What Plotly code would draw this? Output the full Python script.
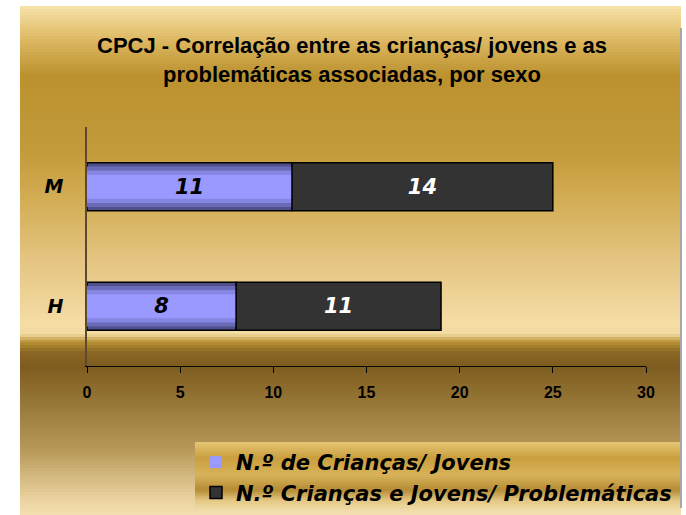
import plotly.graph_objects as go

categories = ["H", "M"]
criancas_jovens = [8, 11]
problematicas = [11, 14]
series_names = ["N.º de Crianças/ Jovens", "N.º Crianças e Jovens/ Problemáticas"]
x_ticks = [0, 5, 10, 15, 20, 25, 30]

W, H = 686, 515
L, R, T, B = 87, 40, 127, 149
pw, ph = W - L - R, H - T - B


def px2x(px):
    return (px - L) / pw


def py2y(py):
    return (H - B - py) / ph


def hex2rgb(h):
    h = h.lstrip("#")
    return tuple(int(h[i:i + 2], 16) for i in (0, 2, 4))


def lerp(c1, c2, t):
    a, b = hex2rgb(c1), hex2rgb(c2)
    return "rgb(%d,%d,%d)" % tuple(round(a[i] + (b[i] - a[i]) * t) for i in range(3))


def gradient(stops, x0, x1, step=3):
    shp = []
    for (p0, c0), (p1, c1) in zip(stops[:-1], stops[1:]):
        p = p0
        while p < p1:
            q = min(p + step, p1)
            t = ((p + q) / 2 - p0) / (p1 - p0)
            shp.append(dict(type="rect", xref="paper", yref="paper", layer="below",
                            x0=px2x(x0), x1=px2x(x1), y0=py2y(q + 0.5), y1=py2y(p),
                            fillcolor=lerp(c0, c1, t), line=dict(width=0)))
            p = q
    return shp


bg_stops = [(6, "#F7E3AA"), (40, "#DDB862"), (75, "#BC922F"), (150, "#C29A3A"),
            (200, "#D3AD55"), (260, "#E4C581"), (322, "#F4DCA4"), (334, "#F3DCA2"),
            (342, "#B89035"), (352, "#8A6724"), (366, "#7E5C20"), (400, "#947535"),
            (450, "#B8995A"), (500, "#EBD3A0"), (515, "#F3DFB0")]
shapes = gradient(bg_stops, 20, 681)

# legend background (metallic gold)
leg_stops = [(442, "#E6C675"), (458, "#C99E3E"), (475, "#D8B35A"), (490, "#B58C35"),
             (500, "#E2C580"), (508, "#EED9A2")]
shapes += gradient(leg_stops, 195, 680, step=2)
shapes.append(dict(type="line", xref="paper", yref="paper", x0=px2x(681), x1=px2x(681),
                   y0=py2y(508), y1=py2y(28), line=dict(color="#A8A8A8", width=2)))

fig = go.Figure()

label_font = dict(family="DejaVu Sans", size=21, weight="bold", style="italic")

layers = [(0.40, "#4F4F8A"), (0.34, "#6A6AB8"), (0.27, "#8585E2"), (0.20, "#9999FF")]
for i, (w, col) in enumerate(layers):
    last = i == len(layers) - 1
    fig.add_trace(go.Bar(
        y=categories, x=criancas_jovens, orientation="h", width=w,
        name=series_names[0], showlegend=last,
        marker=dict(color=col, line=dict(color="#000000" if i == 0 else col,
                                         width=1.5 if i == 0 else 0)),
        text=[str(v) for v in criancas_jovens] if last else None,
        textposition="inside" if last else "none", insidetextanchor="middle",
        constraintext="none", textangle=0,
        textfont=dict(color="#000000", **label_font),
        hoverinfo="skip" if not last else None,
    ))

fig.add_trace(go.Bar(
    y=categories, x=problematicas, base=criancas_jovens, orientation="h", width=0.4,
    name=series_names[1],
    marker=dict(color="#333333", line=dict(color="#000000", width=1.5)),
    text=[str(v) for v in problematicas], textposition="inside", insidetextanchor="middle",
    constraintext="none", textangle=0,
    textfont=dict(color="#FFFFFF", **label_font),
))

fig.update_layout(
    width=W, height=H,
    margin=dict(l=L, r=R, t=T, b=B, autoexpand=False),
    paper_bgcolor="#FFFFFF", plot_bgcolor="rgba(0,0,0,0)",
    barmode="overlay",
    title=dict(text="CPCJ - Correlação entre as crianças/ jovens e as<br>problemáticas associadas, por sexo",
               x=352 / W, xref="container", xanchor="center", y=1 - 53 / H, yref="container",
               yanchor="top",
               font=dict(family="Liberation Sans, Arial", size=22, color="#000000", weight="bold")),
    xaxis=dict(range=[0, 30], tickvals=x_ticks, ticktext=[str(v) for v in x_ticks],
               showgrid=False, zeroline=False, showline=True, linecolor="#000000", linewidth=1,
               ticks="outside", ticklen=6, tickcolor="#000000", automargin=False,
               ticklabelstandoff=6,
               tickfont=dict(family="Liberation Sans, Arial", size=16, color="#000000", weight="bold")),
    yaxis=dict(categoryorder="array", categoryarray=categories, showgrid=False, zeroline=False,
               showline=True, linecolor="#5A4A30", linewidth=1.5, ticks="", automargin=False,
               ticklabelstandoff=18,
               tickfont=dict(family="DejaVu Sans", size=19, color="#000000", weight="bold", style="italic")),
    legend=dict(x=196 / W, xref="container", xanchor="left", y=1 - 442 / H, yref="container",
                yanchor="top",
                bgcolor="rgba(0,0,0,0)", traceorder="normal", tracegroupgap=0, itemwidth=30,
                font=dict(family="DejaVu Sans", size=21, color="#000000", weight="bold", style="italic")),
    shapes=shapes,
    showlegend=True,
)

fig.write_html("out.html", config={"displayModeBar": False},
               post_script="document.body.style.margin='0';")
